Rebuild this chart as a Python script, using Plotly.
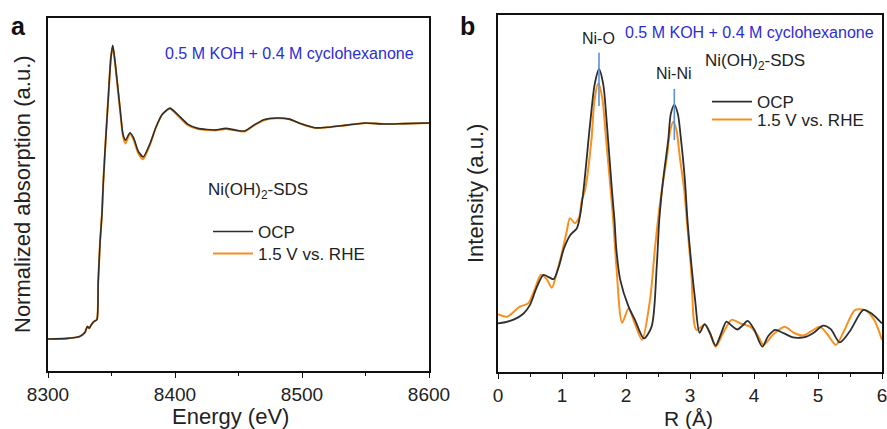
import plotly.graph_objects as go

# ---------------- Panel a: XANES ----------------
energy_ocp = [8300, 8315, 8325, 8329, 8331, 8332.5, 8334, 8336, 8338.5, 8339.5, 8341, 8342.5,
              8343.5, 8345.5, 8347.5, 8349.5, 8351, 8352.5, 8354, 8356.7, 8359, 8361, 8364.5,
              8367.5, 8371, 8375, 8380, 8385, 8390, 8396, 8402, 8410, 8418, 8425, 8432, 8440,
              8447, 8455, 8462, 8470, 8480, 8490, 8500, 8510, 8520, 8535, 8550, 8565, 8580, 8600]
absorb_ocp = [0.0, 0.003, 0.012, 0.03, 0.058, 0.05, 0.065, 0.08, 0.09, 0.26, 0.45, 0.58,
              0.72, 0.93, 1.12, 1.30, 1.36, 1.30, 1.22, 1.07, 0.95, 0.92, 0.955,
              0.93, 0.87, 0.843, 0.9, 0.98, 1.04, 1.069, 1.04, 0.995, 0.975, 0.97, 0.968, 0.975,
              0.968, 0.963, 0.99, 1.015, 1.023, 1.018, 0.995, 0.978, 0.98, 0.99, 1.0, 0.995, 0.997, 1.0]
energy_15v = energy_ocp
absorb_15v = [0.0, 0.003, 0.012, 0.03, 0.058, 0.05, 0.065, 0.08, 0.09, 0.26, 0.45, 0.58,
              0.72, 0.93, 1.12, 1.30, 1.355, 1.29, 1.21, 1.06, 0.94, 0.905, 0.95,
              0.92, 0.86, 0.832, 0.895, 0.98, 1.04, 1.066, 1.035, 0.99, 0.972, 0.967, 0.965, 0.972,
              0.966, 0.961, 0.988, 1.013, 1.022, 1.017, 0.994, 0.977, 0.98, 0.99, 1.0, 0.995, 0.997, 1.0]

# ---------------- Panel b: FT-EXAFS ----------------
r_ocp = [0, 0.19, 0.4, 0.5, 0.6, 0.71, 0.8, 0.87, 0.95, 1.03, 1.13, 1.23, 1.27, 1.33, 1.44, 1.51,
         1.578, 1.645, 1.70, 1.78, 1.82, 1.85, 1.91, 2.04, 2.14, 2.28, 2.40, 2.48, 2.52, 2.58, 2.66,
         2.70, 2.755, 2.81, 2.86, 2.92, 2.96, 3.0, 3.08, 3.15, 3.23, 3.31, 3.40, 3.48, 3.57, 3.65,
         3.74, 3.82, 3.90, 4.0, 4.13, 4.22, 4.33, 4.47, 4.61, 4.72, 4.82, 4.95, 5.08, 5.2, 5.34,
         5.5, 5.71, 5.85, 6.0]
int_ocp = [1.36, 1.43, 1.64, 1.88, 2.35, 2.72, 2.65, 2.6, 2.95, 3.46, 3.84, 4.02, 4.26, 5.0, 6.97, 8.05,
           8.48, 8.05, 6.97, 5.1, 4.26, 3.42, 2.58, 1.83, 1.46, 0.94, 1.27, 2.95, 4.26, 5.38, 6.5,
           7.23, 7.48, 7.23, 6.5, 5.38, 4.26, 3.42, 2.02, 1.10, 1.34, 1.1, 0.74, 1.05, 1.41, 1.3,
           1.19, 1.3, 1.43, 1.2, 0.71, 1.0, 1.18, 1.08, 0.97, 0.96, 0.99, 1.12, 1.30, 1.2, 0.83,
           1.15, 1.74, 1.62, 1.36]
r_15v = [0, 0.14, 0.34, 0.47, 0.57, 0.67, 0.76, 0.84, 0.92, 0.99, 1.07, 1.125, 1.20, 1.27, 1.31,
         1.36, 1.46, 1.51, 1.57, 1.63, 1.69, 1.76, 1.80, 1.85, 1.94, 2.04, 2.14, 2.25, 2.375, 2.45,
         2.50, 2.56, 2.64, 2.69, 2.74, 2.79, 2.84, 2.91, 2.95, 3.02, 3.10, 3.23, 3.31, 3.40, 3.52,
         3.65, 3.80, 3.94, 4.05, 4.15, 4.30, 4.48, 4.62, 4.77, 4.90, 5.03, 5.15, 5.28, 5.42, 5.58,
         5.75, 5.88, 6.0]
int_15v = [1.62, 1.55, 1.83, 1.92, 2.3, 2.72, 2.6, 2.36, 2.8, 3.28, 3.9, 4.31, 4.17, 4.35, 4.82,
           5.1, 6.5, 7.66, 8.09, 7.66, 6.5, 5.1, 4.26, 2.95, 1.38, 1.78, 1.35, 0.90, 2.02, 3.42,
           4.26, 5.1, 6.03, 6.76, 7.01, 6.76, 6.03, 5.1, 4.26, 2.8, 1.18, 1.33, 1.1, 0.71, 1.1,
           1.46, 1.35, 1.27, 1.05, 0.76, 1.05, 1.27, 1.1, 1.02, 1.15, 1.27, 1.05, 0.76, 1.2, 1.74,
           1.72, 1.45, 0.9]

# peak markers (R position, line from top to bottom intensity) and labels
peak_labels = ["Ni-O", "Ni-Ni"]
peak_r = [1.578, 2.755]
peak_line_top = [8.94, 7.93]
peak_line_bottom = [7.45, 6.5]
peak_label_y = [9.35, 8.35]

series_names = ["OCP", "1.5 V vs. RHE"]
colors = ["#2e2e2e", "#f7901e"]

FONT = "Arial, 'Liberation Sans', sans-serif"
W, H = 887, 429


def px_x(p):
    return p / W


def px_y(p):
    return (H - p) / H


fig = go.Figure()

# panel a traces (orange under black)
fig.add_trace(go.Scatter(x=energy_15v, y=absorb_15v, mode="lines", name=series_names[1],
                         line=dict(color=colors[1], width=2, shape="spline", smoothing=0.6),
                         xaxis="x", yaxis="y", legend="legend3"))
fig.add_trace(go.Scatter(x=energy_ocp, y=absorb_ocp, mode="lines", name=series_names[0],
                         line=dict(color=colors[0], width=1.6, shape="spline", smoothing=0.6),
                         xaxis="x", yaxis="y", legend="legend"))

# panel b traces
fig.add_trace(go.Scatter(x=r_15v, y=int_15v, mode="lines", name=series_names[1],
                         line=dict(color=colors[1], width=2, shape="spline", smoothing=0.8),
                         xaxis="x2", yaxis="y2", legend="legend4"))
fig.add_trace(go.Scatter(x=r_ocp, y=int_ocp, mode="lines", name=series_names[0],
                         line=dict(color=colors[0], width=1.8, shape="spline", smoothing=0.8),
                         xaxis="x2", yaxis="y2", legend="legend2"))

for i in range(len(peak_r)):
    fig.add_trace(go.Scatter(x=[peak_r[i], peak_r[i]], y=[peak_line_top[i], peak_line_bottom[i]],
                             mode="lines", line=dict(color="#5b8fd6", width=1.6),
                             showlegend=False, hoverinfo="skip", xaxis="x2", yaxis="y2"))

axis_common = dict(showline=True, mirror=True, linecolor="#111111", linewidth=1.5,
                   showgrid=False, zeroline=False, automargin=False)
tick_common = dict(ticks="outside", ticklen=5, tickwidth=1.3, tickcolor="#111111",
                   ticklabeloverflow="allow",
                   tickfont=dict(size=19, family=FONT, color="#222222"))


def leg(xp, yp):
    return dict(x=px_x(xp), y=px_y(yp), xanchor="left", yanchor="top",
                bgcolor="rgba(0,0,0,0)", borderwidth=0,
                font=dict(size=17, family=FONT, color="#222222"), itemwidth=40)


fig.update_layout(
    template="none",
    width=W, height=H,
    margin=dict(l=0, r=0, t=0, b=0, autoexpand=False),
    paper_bgcolor="white", plot_bgcolor="white",
    font=dict(family=FONT, color="#222222"),
    showlegend=True,
    xaxis=dict(domain=[px_x(48), px_x(429)], range=[8300, 8600], tickmode="linear", tick0=8300,
               dtick=100,
               minor=dict(dtick=50, ticks="outside", ticklen=3, tickwidth=1.3, tickcolor="#111111"),
               anchor="y", **tick_common, **axis_common),
    yaxis=dict(domain=[px_y(371), px_y(18)], range=[-0.148, 1.486], showticklabels=False,
               ticks="", anchor="x", **axis_common),
    xaxis2=dict(domain=[px_x(498), px_x(882)], range=[0, 6], tickmode="linear", tick0=0, dtick=1,
                minor=dict(dtick=0.5, ticks="outside", ticklen=3, tickwidth=1.3, tickcolor="#111111"),
                anchor="y2", **tick_common, **axis_common),
    yaxis2=dict(domain=[px_y(372), px_y(15)], range=[0, 10], showticklabels=False,
                ticks="", anchor="x2", **axis_common),
    legend=leg(208, 214),
    legend3=leg(208, 236),
    legend2=leg(707, 84),
    legend4=leg(707, 102),
)

blue = "#2c2cd8"


def note(xp, yp, text, size, color="#222222", angle=0):
    return dict(x=px_x(xp), y=px_y(yp), xref="paper", yref="paper", showarrow=False,
                xanchor="center", yanchor="middle", textangle=angle, text=text,
                font=dict(size=size, color=color, family=FONT))


ann = [
    note(289, 54, "0.5 M KOH + 0.4 M cyclohexanone", 16, blue),
    note(258, 191, "Ni(OH)<sub>2</sub>-SDS", 17),
    note(18, 26, "<b>a</b>", 25, "#111111"),
    note(230, 416, "Energy (eV)", 22),
    note(22, 194, "Normalized absorption (a.u.)", 22, angle=-90),
    note(749, 33, "0.5 M KOH + 0.4 M cyclohexanone", 16, blue),
    note(755, 62, "Ni(OH)<sub>2</sub>-SDS", 17),
    note(468, 26, "<b>b</b>", 25, "#111111"),
    note(688, 418, "R (Å)", 21),
    note(475, 193, "Intensity (a.u.)", 22, angle=-90),
]
for i in range(len(peak_r)):
    ann.append(dict(x=peak_r[i], y=peak_label_y[i], xref="x2", yref="y2", showarrow=False,
                    xanchor="center", yanchor="middle", text=peak_labels[i],
                    font=dict(size=16, color="#222222", family=FONT)))

fig.update_layout(annotations=ann)

fig.write_html("out.html")
